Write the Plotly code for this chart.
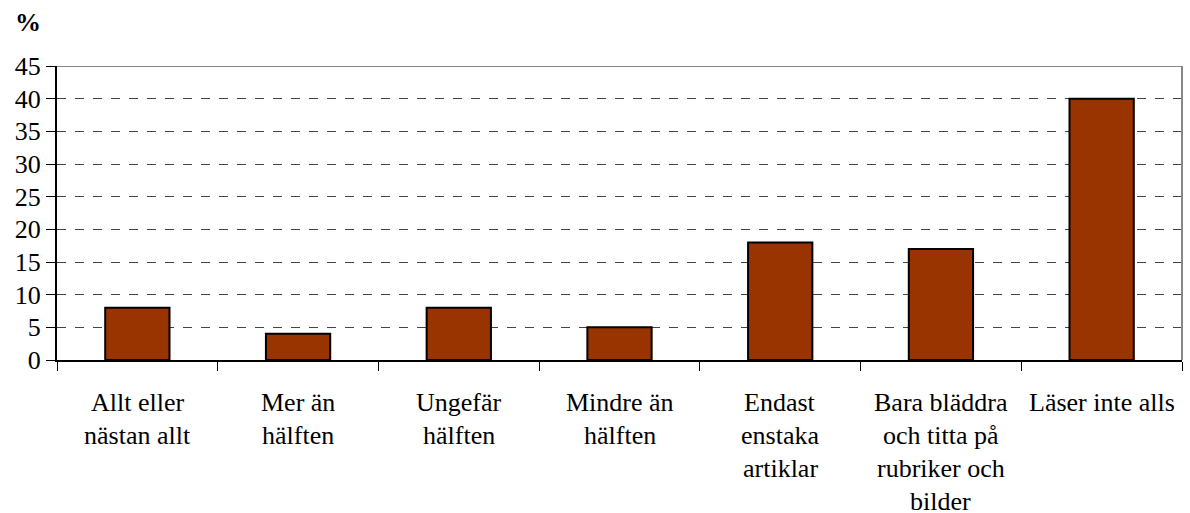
import plotly.graph_objects as go

categories = ["Allt eller nästan allt", "Mer än hälften", "Ungefär hälften", "Mindre än hälften",
              "Endast enstaka artiklar", "Bara bläddra och titta på rubriker och bilder", "Läser inte alls"]
label_lines = [["Allt eller", "nästan allt"], ["Mer än", "hälften"], ["Ungefär", "hälften"],
               ["Mindre än", "hälften"], ["Endast", "enstaka", "artiklar"],
               ["Bara bläddra", "och titta på", "rubriker och", "bilder"], ["Läser inte alls"]]
values = [8, 4, 8, 5, 18, 17, 40]
y_ticks = [0, 5, 10, 15, 20, 25, 30, 35, 40, 45]

FONT = "Times New Roman, Liberation Serif, serif"
FS = 26
fig = go.Figure()
fig.add_trace(go.Bar(x=categories, y=values, width=0.4,
                     marker=dict(color="#993300", line=dict(color="black", width=2))))

H = 513
top, bottom = 66, 153
plot_h = H - top - bottom
annotations = []
for cat, lines in zip(categories, label_lines):
    for i, ln in enumerate(lines):
        ypix = 402 + i * 33.3  # center of line in pixels from top
        yp = (H - bottom - ypix) / plot_h
        annotations.append(dict(x=cat, xref="x", y=yp, yref="paper", text=ln, showarrow=False,
                                font=dict(family=FONT, size=FS, color="black"),
                                xanchor="center", yanchor="middle"))
annotations.append(dict(x=-29/1125, xref="paper", y=1 + 44/plot_h, yref="paper", text="<b>%</b>",
                        showarrow=False, font=dict(family=FONT, size=FS, color="black"),
                        xanchor="center", yanchor="middle"))

fig.update_layout(
    width=1190, height=513,
    margin=dict(l=57, r=8, t=top, b=bottom, autoexpand=False),
    paper_bgcolor="white", plot_bgcolor="white",
    showlegend=False,
    font=dict(family=FONT, size=FS, color="black"),
    annotations=annotations,
    shapes=[
        dict(type="line", xref="paper", yref="y", x0=0, x1=1, y0=45, y1=45,
             line=dict(color="#888888", width=2)),
        dict(type="line", xref="paper", yref="paper", x0=1, x1=1, y0=0, y1=1,
             line=dict(color="#888888", width=2)),
    ],
    xaxis=dict(type="category", showticklabels=False, tickson="boundaries", ticks="outside",
               ticklen=9, tickcolor="black", tickwidth=1, showline=True, linecolor="black",
               linewidth=2, showgrid=False, zeroline=False),
    yaxis=dict(range=[0, 45], tickvals=y_ticks, ticks="outside", ticklen=9, tickcolor="black",
               tickwidth=1, showline=True, linecolor="black", linewidth=2,
               showgrid=True, gridcolor="#444444", griddash="dash", gridwidth=1,
               zeroline=False, tickfont=dict(family=FONT, size=FS, color="black")),
)
fig.write_html("out.html", config={"displayModeBar": False},
               post_script="document.body.style.margin='0';document.body.style.overflow='hidden';")
